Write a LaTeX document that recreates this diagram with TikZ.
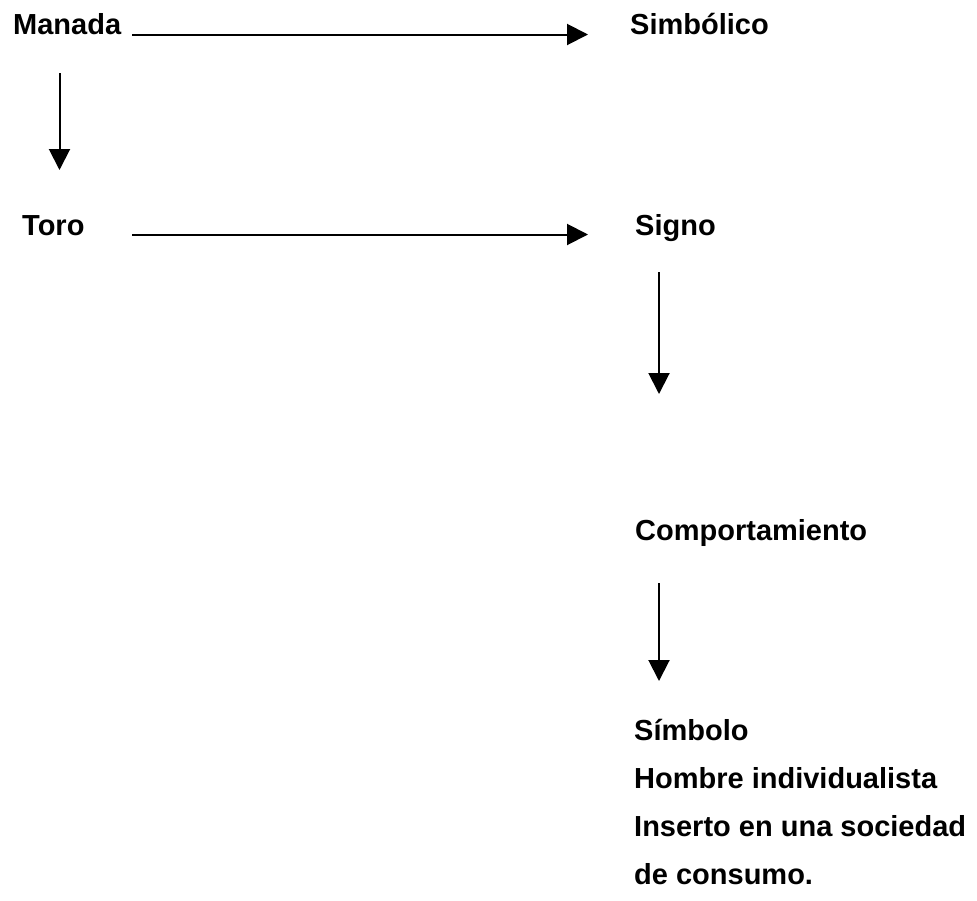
\documentclass[tikz,border=0pt]{standalone}
\usepackage{fontspec}
\setmainfont{Liberation Sans}
\usetikzlibrary{arrows.meta}
\begin{document}
\begin{tikzpicture}[x=1pt,y=-1pt,
  lbl/.style={inner sep=0pt,anchor=base west,font=\fontsize{29}{34}\selectfont\bfseries},
  arr/.style={line width=2pt,-{Triangle[length=21pt,width=21pt]}}]
\useasboundingbox[fill=white] (0,0) rectangle (977,900);
\node[lbl] (manada) at (13,34) {Manada};
\node[lbl] (simb) at (630,34) {Simbólico};
\node[lbl] (toro) at (22,235) {Toro};
\node[lbl] (signo) at (635,235) {Signo};
\node[lbl] (comp) at (635,540) {Comportamiento};
\node[lbl] (s1) at (634,740) {Símbolo};
\node[lbl] (s2) at (634,788) {Hombre individualista};
\node[lbl] (s3) at (634,836) {Inserto en una sociedad};
\node[lbl] (s4) at (634,884) {de consumo.};
\coordinate (a1s) at (132,34.5);
\coordinate (a1e) at (588,34.5);
\coordinate (a2s) at (132,234.5);
\coordinate (a2e) at (588,234.5);
\coordinate (a3s) at (59.5,73);
\coordinate (a3e) at (59.5,170);
\coordinate (a4s) at (659,272);
\coordinate (a4e) at (659,394);
\coordinate (a5s) at (659,583);
\coordinate (a5e) at (659,681);
\draw[arr] (a1s) -- (a1e);
\draw[arr] (a2s) -- (a2e);
\draw[arr] (a3s) -- (a3e);
\draw[arr] (a4s) -- (a4e);
\draw[arr] (a5s) -- (a5e);
\end{tikzpicture}
\end{document}
